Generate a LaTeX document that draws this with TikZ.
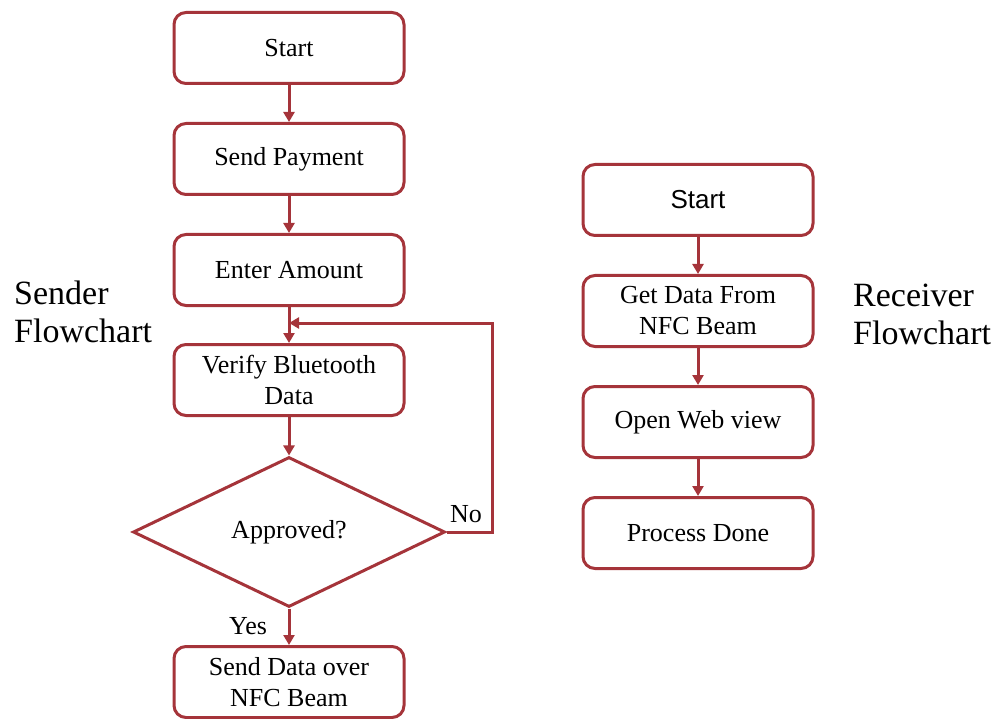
\documentclass[tikz,border=0pt]{standalone}
\usepackage{fontspec}
\setmainfont{Liberation Serif}
\newfontfamily\arialfont{Liberation Sans}
\usetikzlibrary{shapes.geometric,arrows.meta}
\definecolor{flowred}{RGB}{165,52,58}
\tikzset{
  procbox/.style={draw=flowred, line width=3pt, rounded corners=12pt, fill=white,
    minimum width=230pt, minimum height=71pt, align=center, inner sep=2pt,
    font=\fontsize{26}{31}\selectfont},
  decision/.style={draw=flowred, line width=3pt, diamond, fill=white,
    minimum width=312pt, minimum height=150pt, inner sep=0pt,
    font=\fontsize{26}{31}\selectfont},
  flow/.style={draw=flowred, line width=3pt, -{Triangle[width=11pt,length=10pt]}},
  tag/.style={font=\fontsize{26}{30}\selectfont, inner sep=0pt},
  heading/.style={font=\fontsize{34}{38}\selectfont, align=left, anchor=west, inner sep=0pt}
}
\begin{document}
\begin{tikzpicture}[x=1pt,y=-1pt]
  \useasboundingbox (0,0) rectangle (998,719);

  % sender flowchart
  \node[procbox] (s1) at (289,48)  {Start};
  \node[procbox] (s2) at (289,159) {Send Payment};
  \node[procbox] (s3) at (289,270) {Enter Amount};
  \node[procbox] (s4) at (289,380) {Verify Bluetooth\\Data};
  \node[decision] (s5) at (289,532) {Approved?};
  \node[procbox] (s6) at (289,682) {Send Data over\\NFC Beam};

  \draw[flow] (s1) -- (s2);
  \draw[flow] (s2) -- (s3);
  \draw[flow] (s3) -- (s4);
  \draw[flow] (s4) -- (s5);
  \draw[flow] (s5) -- (s6);
  \coordinate (loopin) at (289,323);
  \draw[flow] (s5.east) -- (492,532) -- (492,323) -- (loopin);

  \node[tag] (no)  at (466,514) {No};
  \node[tag] (yes) at (248,626) {Yes};

  \node[heading] (sendlbl) at (14,312) {Sender\\Flowchart};

  % receiver flowchart
  \node[procbox, font=\arialfont\fontsize{26}{31}\selectfont] (r1) at (698,200) {Start};
  \node[procbox] (r2) at (698,311) {Get Data From\\NFC Beam};
  \node[procbox] (r3) at (698,422) {Open Web view};
  \node[procbox] (r4) at (698,533) {Process Done};

  \draw[flow] (r1) -- (r2);
  \draw[flow] (r2) -- (r3);
  \draw[flow] (r3) -- (r4);

  \node[heading] (recvlbl) at (853,314) {Receiver\\Flowchart};
\end{tikzpicture}
\end{document}
